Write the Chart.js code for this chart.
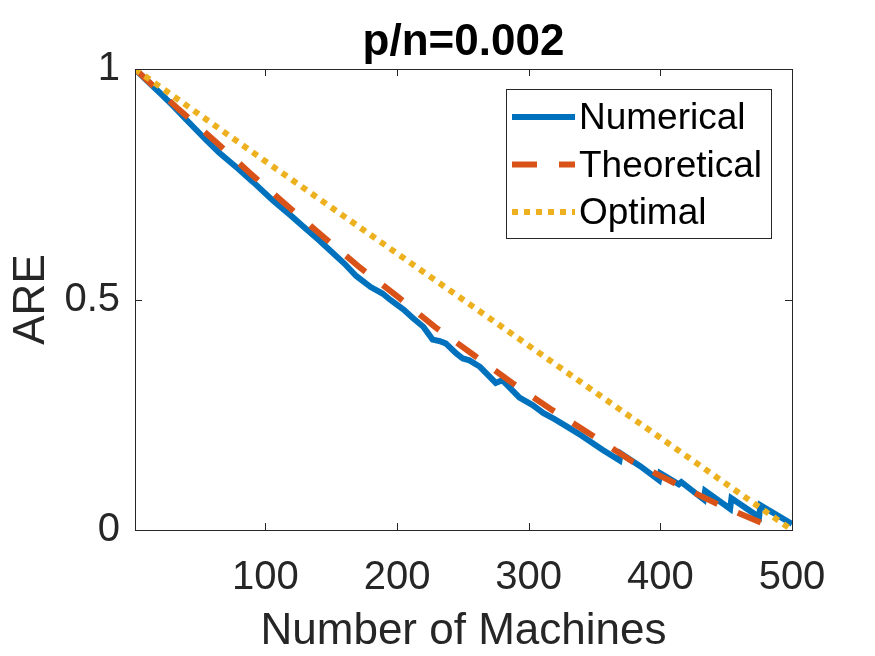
<!DOCTYPE html>
<html>
<head>
<meta charset="utf-8">
<script src="https://cdn.jsdelivr.net/npm/chart.js@4.4.1/dist/chart.umd.min.js"></script>
<style>
  body { margin: 0; background: #fff; }
  #wrap { width: 875px; height: 656px; }
</style>
</head>
<body>
<div id="wrap"><canvas id="chart1" width="875" height="656"></canvas></div>
<script>
// values
const numX = [1, 10, 20, 30, 40, 55, 65, 80, 91, 106, 119, 129, 141, 149, 160, 169, 180, 189, 195, 205, 212, 220, 227, 232, 237, 245, 250, 255, 263, 275, 280, 293, 303, 311, 320, 331, 340, 356, 369, 370, 385, 399, 400, 409, 414, 416, 433, 434, 453, 454, 475, 476, 500];
const numY = [1.000, 0.975, 0.948, 0.920, 0.890, 0.846, 0.818, 0.782, 0.754, 0.714, 0.683, 0.658, 0.628, 0.607, 0.578, 0.551, 0.527, 0.513, 0.499, 0.478, 0.460, 0.441, 0.413, 0.410, 0.405, 0.383, 0.372, 0.368, 0.354, 0.319, 0.325, 0.287, 0.271, 0.254, 0.240, 0.221, 0.205, 0.174, 0.151, 0.166, 0.138, 0.108, 0.123, 0.108, 0.099, 0.104, 0.066, 0.085, 0.046, 0.069, 0.028, 0.054, 0.013];

const theoX = [1, 34, 62, 88, 116, 144, 172, 201, 229, 259, 288, 318, 349, 379, 412, 445, 478, 490];
const theoY = [1.000, 0.913, 0.843, 0.775, 0.705, 0.636, 0.569, 0.505, 0.440, 0.378, 0.318, 0.260, 0.204, 0.148, 0.100, 0.054, 0.014, 0.000];

const optX = [1, 100, 200, 300, 400, 500];
const optY = [1.000, 0.800, 0.600, 0.400, 0.200, 0.000];

const xTicks = [100, 200, 300, 400, 500];
const xTickLabels = ['100', '200', '300', '400', '500'];
const yTicks = [0, 0.5, 1];
const yTickLabels = ['0', '0.5', '1'];

const titleText = 'p/n=0.002';
const FONT = '"Liberation Sans", Arial, Helvetica, sans-serif';
const AXIS = '#262626';

function toPoints(xs, ys) {
    return xs.map((x, i) => ({ x: x, y: ys[i] }));
}

// box, inside tick marks, title and legend like the matlab figure
const figureDecor = {
    id: 'figureDecor',
    afterDatasetsDraw(chart) {
        const ctx = chart.ctx;
        const a = chart.chartArea;
        const xs = chart.scales.x;
        const ys = chart.scales.y;
        ctx.save();
        ctx.strokeStyle = AXIS;
        ctx.lineWidth = 1;
        ctx.beginPath();
        xTicks.forEach(v => {
            const px = Math.round(xs.getPixelForValue(v)) + 0.5;
            ctx.moveTo(px, a.bottom); ctx.lineTo(px, a.bottom - 7);
            ctx.moveTo(px, a.top); ctx.lineTo(px, a.top + 7);
        });
        yTicks.forEach(v => {
            const py = Math.round(ys.getPixelForValue(v)) + 0.5;
            ctx.moveTo(a.left, py); ctx.lineTo(a.left + 7, py);
            ctx.moveTo(a.right, py); ctx.lineTo(a.right - 7, py);
        });
        ctx.stroke();
        ctx.strokeRect(Math.round(a.left) + 0.5, Math.round(a.top) + 0.5,
            Math.round(a.right - a.left), Math.round(a.bottom - a.top));

        // title
        ctx.fillStyle = '#000';
        ctx.font = 'bold 44px ' + FONT;
        ctx.textAlign = 'center';
        ctx.textBaseline = 'alphabetic';
        ctx.fillText(titleText, (a.left + a.right) / 2, 55);

        // legend
        const bx = a.right - 286, by = a.top + 20, bw = 265, bh = 149;
        ctx.fillStyle = '#fff';
        ctx.fillRect(bx, by, bw, bh);
        ctx.strokeStyle = AXIS;
        ctx.strokeRect(bx + 0.5, by + 0.5, bw, bh);
        ctx.font = '37px ' + FONT;
        ctx.textAlign = 'left';
        ctx.textBaseline = 'middle';
        chart.data.datasets.forEach((ds, i) => {
            const rowY = by + 28 + i * 47.5;
            ctx.save();
            ctx.strokeStyle = ds.borderColor;
            ctx.lineWidth = ds.borderWidth;
            ctx.lineCap = 'butt';
            ctx.setLineDash(ds.borderDash || []);
            ctx.beginPath();
            ctx.moveTo(bx + 6, rowY);
            ctx.lineTo(bx + 69, rowY);
            ctx.stroke();
            ctx.restore();
            ctx.fillStyle = '#000';
            ctx.fillText(ds.label, bx + 73, rowY + 2);
        });
        ctx.restore();
    }
};

const ctx1 = document.getElementById('chart1').getContext('2d');
const chart1 = new Chart(ctx1, {
    type: 'line',
    data: {
        datasets: [{
            label: 'Numerical',
            data: toPoints(numX, numY),
            borderColor: '#0072BD',
            borderWidth: 6,
            pointRadius: 0,
            order: 3
        }, {
            label: 'Theoretical',
            data: toPoints(theoX, theoY),
            borderColor: '#D95319',
            borderWidth: 6,
            borderDash: [25, 22],
            pointRadius: 0,
            order: 2
        }, {
            label: 'Optimal',
            data: toPoints(optX, optY),
            borderColor: '#EDB120',
            borderWidth: 6,
            borderDash: [6, 6],
            pointRadius: 0,
            order: 1
        }]
    },
    options: {
        responsive: false,
        animation: false,
        devicePixelRatio: 1,
        layout: { padding: { left: 0, right: 83, top: 69, bottom: 0 } },
        plugins: {
            legend: { display: false },
            title: { display: false },
            tooltip: { enabled: false }
        },
        scales: {
            x: {
                type: 'linear',
                min: 1,
                max: 500,
                afterBuildTicks: s => { s.ticks = xTicks.map(v => ({ value: v })); },
                afterFit: s => { s.height = 126; },
                grid: { display: false, drawTicks: false },
                border: { display: false },
                ticks: {
                    color: AXIS,
                    padding: 24,
                    maxRotation: 0,
                    callback: (v, i) => xTickLabels[i],
                    font: { family: FONT, size: 40 }
                },
                title: {
                    display: true,
                    text: 'Number of Machines',
                    color: AXIS,
                    padding: { top: 0, bottom: 0 },
                    font: { family: FONT, size: 44, lineHeight: 1.1 }
                }
            },
            y: {
                min: 0,
                max: 1,
                afterBuildTicks: s => { s.ticks = yTicks.map(v => ({ value: v })); },
                afterFit: s => { s.width = 135; },
                grid: { display: false, drawTicks: false },
                border: { display: false },
                ticks: {
                    color: AXIS,
                    padding: 15,
                    callback: (v, i) => yTickLabels[i],
                    font: { family: FONT, size: 40 }
                },
                title: {
                    display: true,
                    text: 'ARE',
                    color: AXIS,
                    padding: { top: 5, bottom: 0 },
                    font: { family: FONT, size: 44, lineHeight: 1.2 }
                }
            }
        }
    },
    plugins: [figureDecor]
});
</script>
</body>
</html>
